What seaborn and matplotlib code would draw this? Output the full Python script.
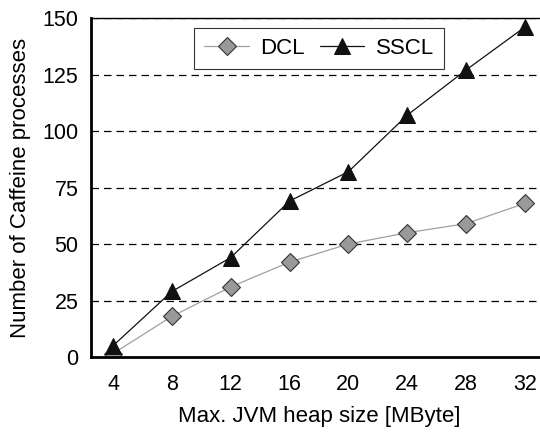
import matplotlib
matplotlib.use("Agg")
import matplotlib.pyplot as plt
import seaborn as sns

heap = [4, 8, 12, 16, 20, 24, 28, 32]
dcl = [1.5, 18, 31, 42, 50, 55, 59, 68]
sscl = [5, 29, 44, 69, 82, 107, 127, 146]
yticks = [0, 25, 50, 75, 100, 125, 150]

sns.set_style("white")
plt.rcParams["font.family"] = ["Liberation Sans", "DejaVu Sans"]
plt.rcParams["text.color"] = "black"
plt.rcParams["axes.labelcolor"] = "black"
plt.rcParams["xtick.color"] = "black"
plt.rcParams["ytick.color"] = "black"

fig = plt.figure(figsize=(5.4, 4.32), dpi=100)
# right edge runs a little past the figure, as in the original
ax = fig.add_axes([0.1685, 0.1736, 0.8444, 0.7847])

for y in yticks[1:]:
    ax.axhline(y, color="black", lw=0.9, ls=(0, (6, 4)), zorder=0)

sns.lineplot(x=heap, y=dcl, ax=ax, color="#a0a0a0", lw=0.9, marker="D",
             markersize=9, markerfacecolor="#999999", markeredgecolor="#333333",
             markeredgewidth=0.8, label="DCL")
sns.lineplot(x=heap, y=sscl, ax=ax, color="#111111", lw=0.9, marker="^",
             markersize=12, markerfacecolor="#111111", markeredgecolor="#111111",
             label="SSCL")

ax.set_xlim(2.5, 33.5)
ax.set_ylim(0, 150)
ax.set_xticks(heap)
ax.set_yticks(yticks)
ax.tick_params(labelsize=15.5, length=0)
ax.tick_params(axis="x", pad=12)
ax.tick_params(axis="y", pad=9)
ax.set_xlabel("Max. JVM heap size [MByte]", fontsize=16, labelpad=8)
ax.set_ylabel("Number of Caffeine processes", fontsize=16, labelpad=8)

for s in ["left", "bottom"]:
    ax.spines[s].set_linewidth(2.0)
    ax.spines[s].set_color("black")
for s in ["top", "right"]:
    ax.spines[s].set_linewidth(1.0)
    ax.spines[s].set_color("black")

leg = ax.legend(loc="upper center", bbox_to_anchor=(0.5, 0.97), ncol=2,
                fontsize=16, frameon=True, fancybox=False, handlelength=2.0,
                columnspacing=0.7, handletextpad=0.5, borderpad=0.45,
                borderaxespad=0)
leg.get_frame().set_edgecolor("black")
leg.get_frame().set_linewidth(0.8)

fig.savefig("out.png", dpi=100)
